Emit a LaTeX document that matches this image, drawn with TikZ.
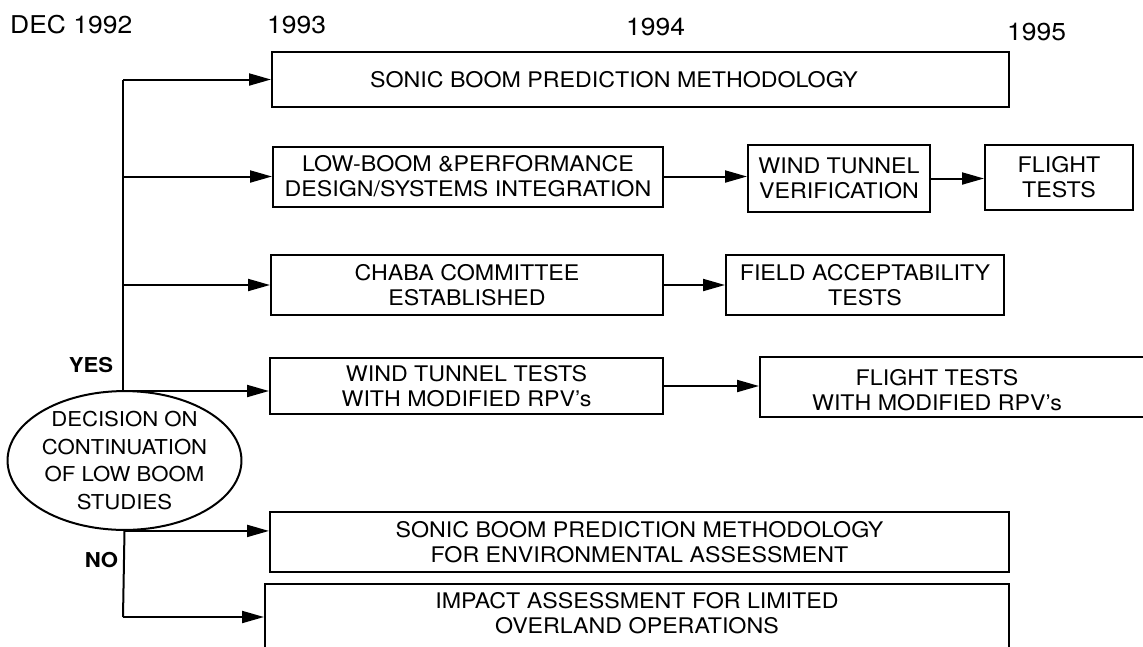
\documentclass[tikz,border=0pt]{standalone}
\usepackage{fontspec}
\setmainfont{TeX Gyre Heros}[FakeStretch=1.08]
\usetikzlibrary{arrows.meta,shapes.geometric}
\begin{document}
\begin{tikzpicture}[x=1pt,y=-1pt,
  txt/.style={font=\fontsize{21.5}{25}\selectfont},
  box/.style={txt,draw,line width=2pt,inner sep=0pt,align=center},
  lbl/.style={txt,inner sep=0pt,align=center},
  yr/.style={inner sep=0pt,anchor=base west,font=\fontsize{24.5}{28}\selectfont},
  yn/.style={inner sep=0pt,font=\bfseries\fontsize{20.5}{22}\selectfont},
  line/.style={line width=2pt},
  arr/.style={line width=2pt,-{Triangle[length=22pt,width=12pt]}}]
\clip (0,0) rectangle (1143,646);
\fill[white] (0,0) rectangle (1143,646);

% time axis labels
\node[yr] (y92) at (10,33) {DEC 1992};
\node[yr] (y93) at (267,33) {1993};
\node[yr] (y94) at (626,35) {1994};
\node[yr] (y95) at (1007,40) {1995};

% task boxes
\node[box,minimum width=737,minimum height=55] (b1) at (640.5,79.5) {};
\node[lbl] (t1) at (614,79.5) {SONIC BOOM PREDICTION METHODOLOGY};
\node[box,minimum width=390,minimum height=60] (b2) at (468,176.5)
  {LOW-BOOM \&PERFORMANCE\\DESIGN/SYSTEMS INTEGRATION};
\node[box,minimum width=182,minimum height=67] (b2b) at (839,178.5)
  {WIND TUNNEL\\VERIFICATION};
\node[box,minimum width=148,minimum height=65] (b2c) at (1059,177.5)
  {FLIGHT\\TESTS};
\node[box,minimum width=392,minimum height=60] (b3) at (467,285)
  {CHABA COMMITTEE\\ESTABLISHED};
\node[box,minimum width=278,minimum height=60] (b3b) at (865,285)
  {FIELD ACCEPTABILITY\\TESTS};
\node[box,minimum width=393,minimum height=56] (b4) at (466.5,386)
  {WIND TUNNEL TESTS\\WITH MODIFIED RPV's};
\node[box,minimum width=400,minimum height=60] (b4b) at (960,387) {};
\node[lbl] (t4b) at (937,390) {FLIGHT TESTS\\WITH MODIFIED RPV's};
\node[box,minimum width=739,minimum height=60] (b5) at (639.5,542)
  {SONIC BOOM PREDICTION METHODOLOGY\\FOR ENVIRONMENTAL ASSESSMENT};
\node[box,minimum width=744,minimum height=90] (b6) at (637,629) {};
\node[lbl] (t6) at (637,613) {IMPACT ASSESSMENT FOR LIMITED\\OVERLAND OPERATIONS};

% decision
\node[draw,line width=2pt,ellipse,minimum width=223,minimum height=127,
  inner sep=0pt,align=center,font=\fontsize{20.5}{27.5}\selectfont] (dec) at (124.5,460.5)
  {DECISION ON\\CONTINUATION\\OF LOW BOOM\\STUDIES};
\node[yn] (yes) at (91,365) {YES};
\node[yn] (no) at (101.5,560) {NO};

% branches from the decision
\coordinate (ty) at (123,391);
\coordinate (tn) at (123,617);
\draw[line] (b1.west -| ty) -- (ty);
\draw[arr] (b1.west -| ty) -- (b1.west);
\draw[arr] (b2.west -| ty) -- (b2.west);
\draw[arr] (b3.west -| ty) -- (b3.west);
\draw[arr] (ty) -- (ty -| b4.west);
\draw[arr] (dec.south) -- (dec.south -| b5.west);
\draw[line] (dec.south) -- (tn);
\draw[arr] (tn) -- (tn -| b6.west);

% sequence arrows
\draw[arr] (b2.east) -- (b2.east -| b2b.west);
\draw[arr] (b2b.east) -- (b2b.east -| b2c.west);
\draw[arr] (b3.east) -- (b3.east -| b3b.west);
\draw[arr] (b4.east) -- (b4.east -| b4b.west);
\end{tikzpicture}
\end{document}
